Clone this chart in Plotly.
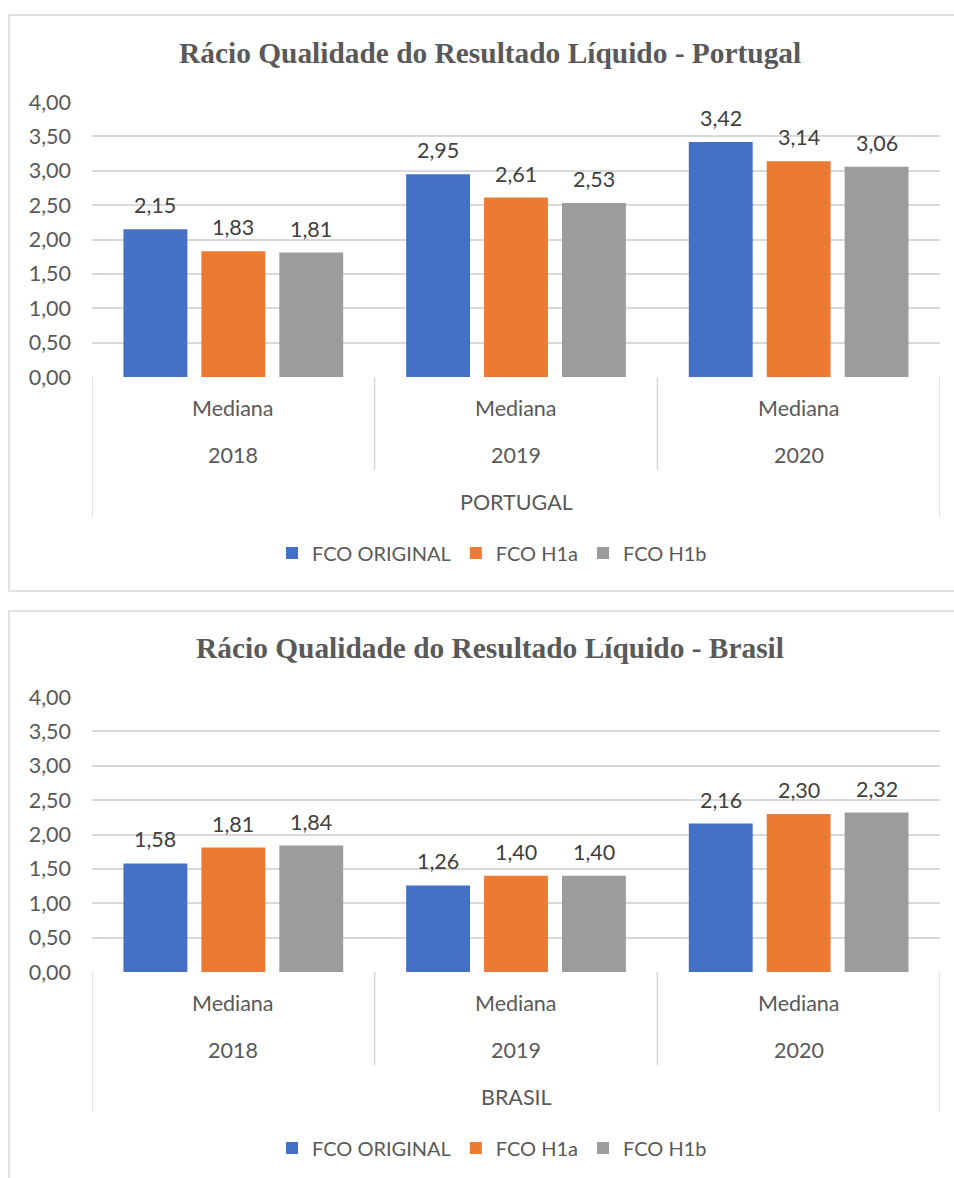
import plotly.graph_objects as go

# ---------------- data ----------------
years = ["2018", "2019", "2020"]
series_names = ["FCO ORIGINAL", "FCO H1a", "FCO H1b"]
stat_label = "Mediana"

pt_original = [2.15, 2.95, 3.42]
pt_h1a = [1.83, 2.61, 3.14]
pt_h1b = [1.81, 2.53, 3.06]

br_original = [1.58, 1.26, 2.16]
br_h1a = [1.81, 1.40, 2.30]
br_h1b = [1.84, 1.40, 2.32]

countries = ["PORTUGAL", "BRASIL"]
titles = ["Rácio Qualidade do Resultado Líquido - Portugal",
          "Rácio Qualidade do Resultado Líquido - Brasil"]

y_ticks = [0, 0.5, 1, 1.5, 2, 2.5, 3, 3.5, 4]

# ---------------- styling ----------------
W, H = 954, 1178
colors = ["#4470C6", "#EC7A33", "#9C9C9C"]
grid = "#D9D9D9"
txt = "#595959"
lbl = "#404040"
FONT = "Lato"
FS = 21.5


def py(px):
    return 1 - px / H


panels = [
    dict(values=[pt_original, pt_h1a, pt_h1b], top=102, bottom=377, off=0),
    dict(values=[br_original, br_h1a, br_h1b], top=697, bottom=972, off=595),
]

x_left, x_right = 92, 940
bargap = 0.173
bargroupgap = 0.18
cat_px = (x_right - x_left) / len(years)
slot_px = cat_px * (1 - bargap) / len(series_names)

fig = go.Figure()
shapes = []
annotations = []

for p, panel in enumerate(panels):
    xa = "x" if p == 0 else "x2"
    ya = "y" if p == 0 else "y2"
    leg = "legend" if p == 0 else "legend2"
    off = panel["off"]
    idx = list(range(len(years)))
    for s, (name, vals) in enumerate(zip(series_names, panel["values"])):
        fig.add_trace(go.Bar(
            x=idx, y=vals, name=name, xaxis=xa, yaxis=ya, legend=leg,
            marker=dict(color=colors[s], line=dict(width=0)),
            hoverinfo="skip",
        ))
        for j, v in enumerate(vals):
            annotations.append(dict(
                x=j, y=v, xref=xa, yref=ya,
                xshift=(s - 1) * slot_px, yshift=9,
                text=f"{v:.2f}".replace(".", ","), showarrow=False,
                yanchor="bottom", xanchor="center",
                font=dict(family=FONT, size=FS, color=lbl),
            ))
    # border of chart area
    shapes.append(dict(type="rect", xref="paper", yref="paper",
                       x0=9 / W, x1=1.05, y0=py(591 + off if p == 0 else 1200),
                       y1=py(15 + off if p == 0 else 611),
                       line=dict(color=grid, width=1.5), fillcolor="rgba(0,0,0,0)",
                       layer="below"))
    # category axis separators
    n = len(years)
    for k in range(n + 1):
        outer = k in (0, n)
        shapes.append(dict(type="line", xref=xa, yref="paper",
                           x0=k - 0.5, x1=k - 0.5,
                           y0=py(panel["bottom"]),
                           y1=py((517 if outer else 470) + off),
                           line=dict(color=grid, width=1.5)))
    for j, yr in enumerate(years):
        annotations.append(dict(x=j, xref=xa, y=py(408 + off), yref="paper",
                                text=stat_label, showarrow=False, yanchor="middle",
                                font=dict(family=FONT, size=FS, color=txt)))
        annotations.append(dict(x=j, xref=xa, y=py(455 + off), yref="paper",
                                text=yr, showarrow=False, yanchor="middle",
                                font=dict(family=FONT, size=FS, color=txt)))
    annotations.append(dict(x=(x_left + x_right) / 2 / W, xref="paper",
                            y=py(502 + off), yref="paper",
                            text=countries[p], showarrow=False, yanchor="middle",
                            font=dict(family=FONT, size=FS, color=txt)))
    annotations.append(dict(x=489.5 / W, xref="paper", y=py(53 + off), yref="paper",
                            text=f"<b>{titles[p]}</b>", showarrow=False,
                            yanchor="middle",
                            font=dict(family="Liberation Serif", size=29.4, color=txt)))

axis_common_x = dict(range=[-0.5, len(years) - 0.5], showticklabels=False,
                     showgrid=False, zeroline=False, showline=False, ticks="",
                     domain=[x_left / W, x_right / W], fixedrange=True)
axis_common_y = dict(range=[0, 4], tickvals=y_ticks, tickformat=".2f",
                     showgrid=True, gridcolor=grid, gridwidth=1.5, zeroline=False,
                     showline=False, ticks="", ticklabelstandoff=20,
                     tickfont=dict(family=FONT, size=FS, color=txt), fixedrange=True)

legend_common = dict(orientation="h", xanchor="center", x=492 / W, yanchor="middle",
                     font=dict(family=FONT, size=20, color=txt),
                     bgcolor="rgba(0,0,0,0)", itemclick=False, itemdoubleclick=False,
                     traceorder="normal")

fig.update_layout(
    width=W, height=H, margin=dict(l=0, r=0, t=0, b=0, autoexpand=False),
    paper_bgcolor="white", plot_bgcolor="white",
    separators=", ",
    barmode="group", bargap=bargap, bargroupgap=bargroupgap,
    xaxis=dict(axis_common_x, anchor="y"),
    yaxis=dict(axis_common_y, domain=[py(panels[0]["bottom"]), py(panels[0]["top"])], anchor="x"),
    xaxis2=dict(axis_common_x, anchor="y2"),
    yaxis2=dict(axis_common_y, domain=[py(panels[1]["bottom"]), py(panels[1]["top"])], anchor="x2"),
    legend=dict(legend_common, y=py(553)),
    legend2=dict(legend_common, y=py(553 + 595)),
    shapes=shapes, annotations=annotations,
    showlegend=True,
)

fig.write_html("out.html")
